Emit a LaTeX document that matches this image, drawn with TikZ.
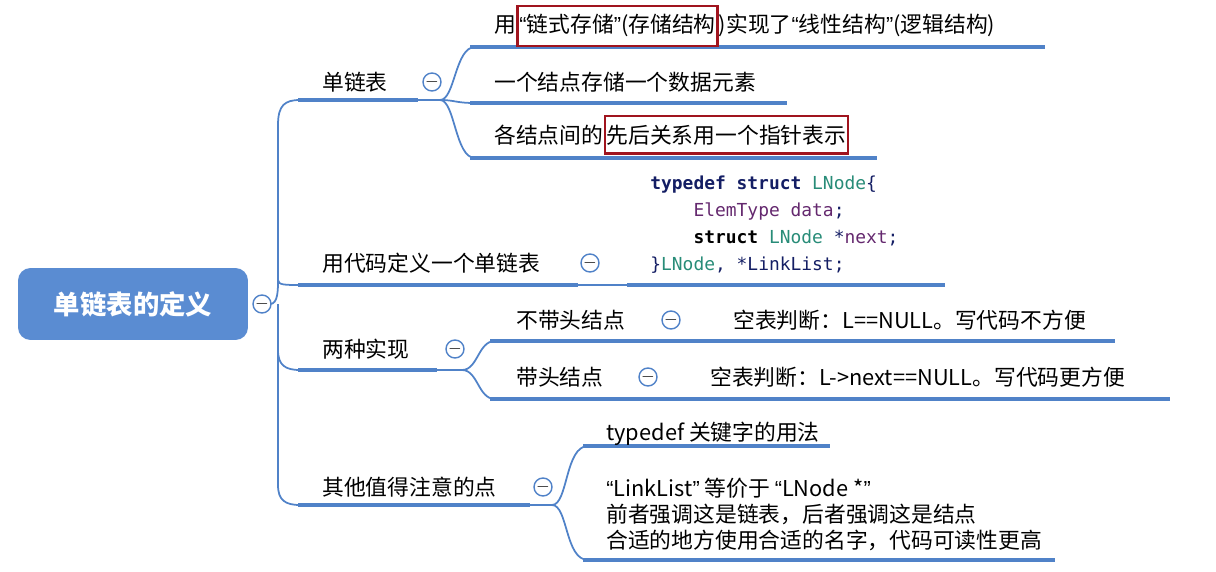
\documentclass[tikz,border=0pt]{standalone}
\usepackage{fontspec}
\setmainfont{Noto Sans CJK SC}
\newfontfamily\codefont{DejaVu Sans Mono}
\newfontfamily\latfont{Liberation Sans}
\newcommand{\myLq}{{\latfont “}}
\newcommand{\myRq}{{\latfont ”}}
\begin{document}
\begin{tikzpicture}[x=0.02cm,y=-0.02cm,
  ln/.style={line width=2.4pt, draw={rgb,255:red,80;green,130;blue,200}},
  br/.style={draw={rgb,255:red,80;green,130;blue,200}, line width=1pt},
  tx/.style={anchor=west, font=\fontsize{12.4}{14}\selectfont, inner sep=0pt},
  mn/.style={circle, draw={rgb,255:red,80;green,130;blue,200}, line width=0.8pt, minimum size=0.36cm, inner sep=0pt, fill=white},
  rb/.style={draw={rgb,255:red,160;green,20;blue,30}, line width=1.4pt, inner xsep=1pt, inner ysep=5pt, anchor=base west, font=\fontsize{12.4}{14}\selectfont},
  tb/.style={inner sep=0pt, anchor=base west, font=\fontsize{12.4}{14}\selectfont}]
\definecolor{kw}{RGB}{20,30,100}
\definecolor{ty}{RGB}{40,140,120}
\definecolor{vr}{RGB}{100,40,110}
\useasboundingbox (0,0) rectangle (1216,571);
% root
\node[fill={rgb,255:red,90;green,140;blue,210}, rounded corners=0.25cm, minimum width=4.6cm, minimum height=1.44cm, text=white, font=\fontsize{15}{17}\selectfont\bfseries] (root) at (133,304) {单链表的定义};
% trunk
\draw[br] (270,304) .. controls (278,304) and (278,290) .. (278,280) -- (278,125) .. controls (278,105) and (285,100) .. (300,100);
\draw[br] (278,280) .. controls (278,285) and (285,285) .. (300,285);
\draw[br] (278,304) -- (278,350) .. controls (278,365) and (285,370) .. (300,370);
\draw[br] (278,350) -- (278,485) .. controls (278,500) and (285,505) .. (300,505);
\node[mn] (m0) at (262,304) {$-$};
% level 1 lines
\draw[ln] (298,100) -- (418,100);
\draw[ln] (298,285) -- (578,285);
\draw[ln] (298,370) -- (437,370);
\draw[ln] (298,505) -- (530,505);
\node[tx] (a) at (322,82) {单链表};
\node[tx] (b) at (322,263) {用代码定义一个单链表};
\node[tx] (c) at (322,349) {两种实现};
\node[tx] (d) at (322,487) {其他值得注意的点};
% single list children
\draw[br] (418,100) -- (440,100) .. controls (455,100) and (455,47) .. (475,47);
\draw[br] (440,100) .. controls (455,100) and (455,103) .. (475,103);
\draw[br] (440,100) .. controls (455,100) and (455,158) .. (475,158);
\node[mn] (m1) at (432,82) {$-$};
\draw[ln] (470,47) -- (1045,47);
\draw[ln] (470,103) -- (787,103);
\draw[ln] (470,158) -- (877,158);
\node[tb] (a1) at (494,33) {用};
\node[rb] (a1b) at (a1.base east) {\myLq 链式存储\myRq(存储结构};
\node[tb] (a1c) at (a1b.base east) {)实现了\myLq 线性结构\myRq(逻辑结构)};
\node[tx] (a2) at (494,82) {一个结点存储一个数据元素};
\node[tb] (a3) at (494,143) {各结点间的};
\node[rb] (a3b) at (a3.base east) {先后关系用一个指针表示};
% code
\draw[br] (578,285) -- (627,285);
\node[mn] (m2) at (590,263) {$-$};
\draw[ln] (627,285) -- (945,285);
\node[anchor=north west, inner sep=0pt, font=\codefont\fontsize{10.2}{15.2}\selectfont, align=left] (code) at (650,176) {%
\textbf{\color{kw}typedef struct} \color{ty}LNode\color{kw}\{\\
\color{vr}\ \ \ \ ElemType data\color{kw};\\
\ \ \ \ \textbf{struct} \color{ty}LNode \color{kw}*\color{vr}next\color{kw};\\
\color{kw}\}\color{ty}LNode\color{kw}, *LinkList;};
% two impl
\draw[br] (437,370) -- (462,370) .. controls (478,370) and (478,341) .. (495,341);
\draw[br] (462,370) .. controls (478,370) and (478,399) .. (495,399);
\node[mn] (m3) at (455,349) {$-$};
\draw[ln] (490,341) -- (1115,341);
\draw[ln] (490,399) -- (1170,399);
\node[tx] (c1) at (516,320) {不带头结点};
\node[tx] (c2) at (516,377) {带头结点};
\node[mn] (m4) at (671,320) {$-$};
\node[mn] (m5) at (648,377) {$-$};
\node[tx] (c1a) at (733,320) {空表判断：L==NULL。写代码不方便};
\node[tx] (c2a) at (710,377) {空表判断：L->next==NULL。写代码更方便};
% others
\draw[br] (530,505) -- (552,505) .. controls (568,505) and (565,446) .. (588,446);
\draw[br] (552,505) .. controls (568,505) and (565,560) .. (588,560);
\node[mn] (m6) at (543,487) {$-$};
\draw[ln] (583,446) -- (830,446);
\draw[ln] (583,560) -- (1055,560);
\node[tx] (d1) at (606,434) {typedef 关键字的用法};
\node[anchor=north west, inner sep=0pt, font=\fontsize{12.4}{14.6}\selectfont, align=left] (d2) at (606,478) {\myLq LinkList\myRq{} 等价于 \myLq LNode *\myRq\\前者强调这是链表，后者强调这是结点\\合适的地方使用合适的名字，代码可读性更高};
\end{tikzpicture}
\end{document}
